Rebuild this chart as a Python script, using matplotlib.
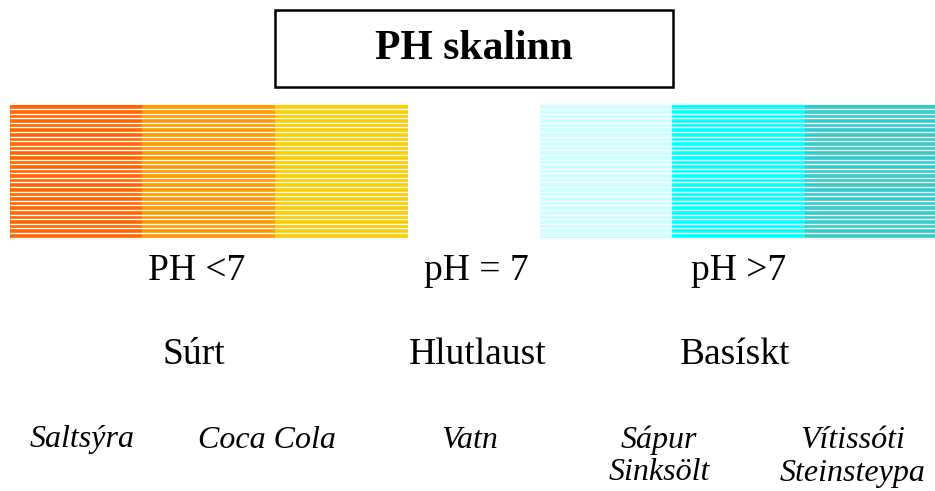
import matplotlib.pyplot as plt
from matplotlib.patches import Rectangle

# pH scale colour blocks (left edge, colour)
block_left = [10, 142, 275, 540, 672, 805]
block_colors = ['#FF6600', '#FF9900', '#FFCC00', '#CCFFFF', '#00FFFF', '#33CCCC']
block_width = 132
bar_top, bar_bottom = 105, 238
n_stripes = 29

title = 'PH skalinn'
ph_labels = ['PH <7', 'pH = 7', 'pH >7']
ph_x = [197, 476, 739]
group_labels = ['Súrt', 'Hlutlaust', 'Basískt']
group_x = [194, 478, 735]
examples = ['Saltsýra', 'Coca Cola', 'Vatn', 'Sápur\nSinksölt', 'Vítissóti\nSteinsteypa']
example_x = [82, 267, 470, 659, 853]

plt.rcParams['font.family'] = ['Liberation Serif', 'DejaVu Serif']

fig = plt.figure(figsize=(9.35, 4.91), dpi=100)
ax = fig.add_axes([0, 0, 1, 1])
ax.set_xlim(0, 935)
ax.set_ylim(491, 0)
ax.axis('off')

# coloured blocks (edge in same colour so neighbours meet without a seam)
ax.bar(block_left, bar_bottom - bar_top, width=block_width, bottom=bar_top,
       color=block_colors, edgecolor=block_colors, align='edge', linewidth=0.8)

# thin white stripes across the blocks
step = (bar_bottom - bar_top) / n_stripes
for i in range(1, n_stripes + 1):
    y = bar_top + i * step - 0.5
    for x0 in block_left:
        ax.hlines(y, x0 - 0.5, x0 + block_width + 0.5, color='white', linewidth=1.0)

# title box
ax.add_patch(Rectangle((275, 10), 398, 77, fill=False, edgecolor='black', linewidth=1.8))
ax.text(474, 49, title, ha='center', va='center', fontsize=30, fontweight='bold')

for x, s in zip(ph_x, ph_labels):
    ax.text(x, 271, s, ha='center', va='center', fontsize=27)
for x, s in zip(group_x, group_labels):
    ax.text(x, 355, s, ha='center', va='center', fontsize=27)
for x, s in zip(example_x, examples):
    for j, line in enumerate(s.split('\n')):
        ax.text(x, 440 + 33 * j, line, ha='center', va='center',
                fontsize=23, style='italic')

fig.savefig('out.png', dpi=100)
